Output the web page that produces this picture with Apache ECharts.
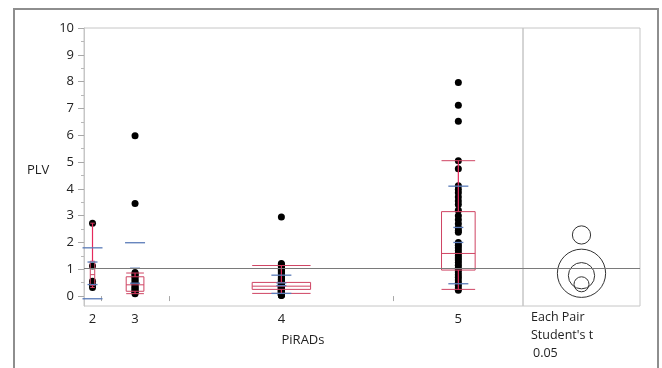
<!DOCTYPE html>
<html><head><meta charset="utf-8">
<script src="https://cdn.jsdelivr.net/npm/echarts@6/dist/echarts.min.js"></script>
<style>html,body{margin:0;padding:0;background:#fff}#c{width:662px;height:368px}</style>
</head><body><div id="c"></div>
<script>
// ---- data ----
const categories = ['2', '3', '4', '5'];
const pirads2 = [2.72, 1.12, 0.55, 0.42, 0.32];
const pirads3 = [5.98, 3.45, 0.88, 0.84, 0.8, 0.75, 0.7, 0.64, 0.58, 0.52, 0.47, 0.42, 0.38, 0.33, 0.28, 0.24, 0.2, 0.16, 0.12, 0.09];
const pirads4 = [2.95, 1.22, 1.18, 1.14, 1.1, 1.05, 1.0, 0.96, 0.92, 0.88, 0.84, 0.8, 0.76, 0.72, 0.69, 0.66, 0.63, 0.6, 0.57, 0.55,
  0.53, 0.51, 0.49, 0.47, 0.45, 0.44, 0.42, 0.41, 0.4, 0.38, 0.37, 0.36, 0.35, 0.34, 0.33, 0.32, 0.31, 0.3, 0.29, 0.28,
  0.27, 0.26, 0.25, 0.24, 0.23, 0.22, 0.21, 0.2, 0.19, 0.18, 0.17, 0.16, 0.15, 0.14, 0.13, 0.12, 0.11, 0.1, 0.09, 0.08,
  0.07, 0.06, 0.05, 0.04, 0.03, 0.02];
const pirads5 = [7.97, 7.12, 6.52, 5.05, 4.75, 4.12, 3.98, 3.85, 3.7, 3.55, 3.42, 3.2, 3.0, 2.85, 2.7, 2.55, 2.45, 2.38, 2.0, 1.9,
  1.8, 1.7, 1.6, 1.5, 1.42, 1.35, 1.25, 1.15, 1.05, 0.98, 0.9, 0.8, 0.7, 0.6, 0.5, 0.4, 0.3, 0.22];
// quantile box plots
const pct10 = [0.32, 0.09, 0.1, 0.25];
const quart1 = [0.4, 0.18, 0.25, 0.97];
const medians = [0.8, 0.42, 0.37, 1.59];
const quart3 = [1.3, 0.72, 0.51, 3.15];
const pct90 = [2.72, 0.86, 1.14, 5.05];
// means, std dev, std error
const means = [0.85, 0.76, 0.44, 2.28];
const stdDevs = [0.95, 1.23, 0.34, 1.82];
const stdErrs = [0.42, 0.28, 0.05, 0.28];
// comparison circle radii (Each Pair, Student's t, 0.05)
const circleRadii = [0.9, 0.49, 0.28, 0.34];
const grandMean = 1.03;
const yTickValues = [0, 1, 2, 3, 4, 5, 6, 7, 8, 9, 10];
const yMinorTickValues = [0.5, 1.5, 2.5, 3.5, 4.5, 5.5, 6.5, 7.5, 8.5, 9.5];
const yMin = -0.37, yMax = 10;

// ---- derived layout along x (group widths proportional to counts) ----
const groups = [pirads2, pirads3, pirads4, pirads5];
const counts = groups.map(g => g.length);
const bounds = [0];
counts.forEach(n => bounds.push(bounds[bounds.length - 1] + n));
const total = bounds[bounds.length - 1];
const centers = counts.map((n, i) => bounds[i] + n / 2);

const scatterData = [];
groups.forEach((g, i) => g.forEach(v => scatterData.push([centers[i], v])));
const boxData = categories.map((c, i) => [centers[i], pct10[i], quart1[i], medians[i], quart3[i], pct90[i], counts[i] * 0.13]);
const sdData = categories.map((c, i) => [centers[i], means[i], stdDevs[i], stdErrs[i]]);
const circleData = categories.map((c, i) => [0.5, means[i], circleRadii[i]]);

const FONT = 'Open Sans';
const boxColor = '#cf4463';
const whiskerColor = '#e52a5c';
const blue = '#5a7bb8';
const frame = '#c6c6c6';

const chart = echarts.init(document.getElementById('c'));
chart.setOption({
  animation: false,
  backgroundColor: '#fff',
  textStyle: { fontFamily: FONT },
  grid: [
    { left: 84, top: 28, width: 439, height: 278, show: true, borderColor: frame, borderWidth: 1 },
    { left: 523, top: 28, width: 117, height: 278, show: true, borderColor: frame, borderWidth: 1 }
  ],
  xAxis: [
    {
      gridIndex: 0, type: 'value', min: 0, max: total,
      axisLine: { show: false },
      splitLine: { show: false },
      axisTick: { show: true, customValues: bounds.slice(1, -1), length: 5, lineStyle: { color: '#a8a8a8' } },
      axisLabel: {
        customValues: centers, margin: 7, color: '#222', fontSize: 13, fontFamily: FONT,
        formatter: v => { let k = 0; centers.forEach((c, i) => { if (Math.abs(c - v) < Math.abs(centers[k] - v)) k = i; }); return categories[k]; }
      }
    },
    { gridIndex: 1, type: 'value', min: 0, max: 1, show: false }
  ],
  yAxis: [
    {
      gridIndex: 0, type: 'value', min: yMin, max: yMax, position: 'left',
      axisLine: { show: true, lineStyle: { color: frame } },
      splitLine: { show: false },
      axisTick: { show: true, customValues: yTickValues, length: 6, lineStyle: { color: '#a8a8a8' } },
      axisLabel: { customValues: yTickValues, margin: 10, color: '#222', fontSize: 13, fontFamily: FONT }
    },
    {
      gridIndex: 0, type: 'value', min: yMin, max: yMax, position: 'left',
      axisLine: { show: false }, splitLine: { show: false },
      axisTick: { show: true, customValues: yMinorTickValues, length: 3, lineStyle: { color: '#b8b8b8' } },
      axisLabel: { show: false }
    },
    { gridIndex: 1, type: 'value', min: yMin, max: yMax, show: false }
  ],
  series: [
    {
      type: 'scatter', xAxisIndex: 0, yAxisIndex: 0, z: 2,
      symbol: 'circle', symbolSize: 7,
      itemStyle: { color: '#000', opacity: 1 },
      data: scatterData,
      markLine: {
        silent: true, symbol: 'none', label: { show: false },
        lineStyle: { color: '#7a7a7a', width: 1.2, type: 'solid' },
        data: [{ yAxis: grandMean }]
      }
    },
    {
      type: 'custom', xAxisIndex: 0, yAxisIndex: 0, z: 3,
      data: boxData,
      renderItem(params, api) {
        const cx = api.value(0), half = api.value(6);
        const xl = api.coord([cx - half, 0])[0], xr = api.coord([cx + half, 0])[0], xc = api.coord([cx, 0])[0];
        const y = v => api.coord([cx, v])[1];
        const a = y(api.value(1)), b = y(api.value(2)), m = y(api.value(3)), c = y(api.value(4)), d = y(api.value(5));
        const ls = { stroke: boxColor, lineWidth: 1, fill: null };
        const ws = { stroke: whiskerColor, lineWidth: 1.2 };
        return {
          type: 'group', children: [
            { type: 'rect', shape: { x: xl, y: c, width: xr - xl, height: b - c }, style: ls },
            { type: 'line', shape: { x1: xl, y1: m, x2: xr, y2: m }, style: ls },
            { type: 'line', shape: { x1: xl, y1: a, x2: xr, y2: a }, style: ls },
            { type: 'line', shape: { x1: xl, y1: d, x2: xr, y2: d }, style: ls },
            { type: 'line', shape: { x1: xc, y1: d, x2: xc, y2: c }, style: ws },
            { type: 'line', shape: { x1: xc, y1: b, x2: xc, y2: a }, style: ws }
          ]
        };
      }
    },
    {
      type: 'custom', xAxisIndex: 0, yAxisIndex: 0, z: 4,
      data: sdData,
      renderItem(params, api) {
        const cx = api.value(0), mu = api.value(1), sd = api.value(2), se = api.value(3);
        const xc = api.coord([cx, 0])[0];
        const kids = [];
        const hline = (v, hw) => {
          if (v < yMin || v > yMax) return;
          const yy = api.coord([cx, v])[1];
          kids.push({ type: 'line', shape: { x1: xc - hw, y1: yy, x2: xc + hw, y2: yy }, style: { stroke: blue, lineWidth: 1.3 } });
        };
        hline(mu + sd, 10); hline(mu - sd, 10);
        hline(mu + se, 5); hline(mu - se, 5);
        return { type: 'group', children: kids };
      }
    },
    {
      type: 'custom', xAxisIndex: 1, yAxisIndex: 2, z: 3,
      data: circleData,
      renderItem(params, api) {
        const c = api.coord([api.value(0), api.value(1)]);
        const r = api.size([0, api.value(2)])[1];
        return { type: 'circle', shape: { cx: c[0], cy: c[1], r: r }, style: { stroke: '#333', lineWidth: 1, fill: null } };
      },
      markLine: {
        silent: true, symbol: 'none', label: { show: false },
        lineStyle: { color: '#7a7a7a', width: 1.2, type: 'solid' },
        data: [{ yAxis: grandMean }]
      }
    }
  ],
  graphic: [
    { type: 'rect', z: 10, shape: { x: 14, y: 9, width: 644, height: 400 }, style: { fill: null, stroke: '#8e8e8e', lineWidth: 2 } },
    { type: 'text', x: 27, y: 170, style: { text: 'PLV', font: `13px "${FONT}"`, fill: '#222', verticalAlign: 'middle' } },
    { type: 'text', x: 303, y: 340, style: { text: 'PiRADs', font: `13px "${FONT}"`, fill: '#222', align: 'center', verticalAlign: 'middle' } },
    { type: 'text', x: 531, y: 317, style: { text: 'Each Pair', font: `12.5px "${FONT}"`, fill: '#222', verticalAlign: 'middle' } },
    { type: 'text', x: 531, y: 335, style: { text: "Student's t", font: `12.5px "${FONT}"`, fill: '#222', verticalAlign: 'middle' } },
    { type: 'text', x: 533, y: 353, style: { text: '0.05', font: `12.5px "${FONT}"`, fill: '#222', verticalAlign: 'middle' } }
  ]
});
</script></body></html>
